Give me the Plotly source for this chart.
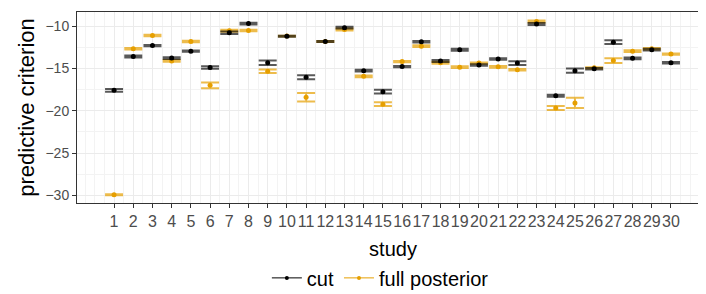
import plotly.graph_objects as go

study = list(range(1, 31))
cut_mean = [-17.59, -13.59, -12.30, -13.78, -12.96, -14.89, -10.78, -9.70, -14.33, -11.20,
            -16.04, -11.82, -10.18, -15.26, -17.74, -14.78, -11.85, -14.11, -12.78, -14.59,
            -13.89, -14.37, -9.74, -18.22, -15.26, -15.04, -11.89, -13.81, -12.78, -14.33]
cut_err = [0.15, 0.12, 0.08, 0.10, 0.08, 0.15, 0.15, 0.10, 0.26, 0.05,
           0.24, 0.05, 0.10, 0.10, 0.22, 0.08, 0.08, 0.12, 0.12, 0.08,
           0.08, 0.22, 0.12, 0.12, 0.24, 0.08, 0.22, 0.10, 0.10, 0.08]
full_mean = [-29.93, -12.67, -11.11, -14.11, -11.81, -17.00, -10.55, -10.52, -15.33, -11.18,
             -18.41, -11.82, -10.40, -15.93, -19.22, -14.19, -12.37, -14.33, -14.85, -14.37,
             -14.81, -15.15, -9.44, -19.67, -19.07, -14.93, -14.07, -12.96, -12.67, -13.30]
full_err = [0.05, 0.10, 0.08, 0.10, 0.08, 0.35, 0.12, 0.08, 0.20, 0.05,
            0.50, 0.05, 0.12, 0.10, 0.22, 0.08, 0.10, 0.12, 0.10, 0.08,
            0.10, 0.08, 0.12, 0.24, 0.60, 0.08, 0.28, 0.10, 0.10, 0.08]
tick_labels = [str(s) for s in study]

BLACK = "#000000"
ORANGE = "#E69F00"
FONT = "Liberation Sans, Arial, sans-serif"

fig = go.Figure()

fig.add_trace(go.Scatter(
    x=study, y=full_mean, mode="markers", showlegend=False,
    marker=dict(color=ORANGE, size=5),
    error_y=dict(type="data", array=full_err, visible=True,
                 color="rgba(230,159,0,0.7)", thickness=2, width=9),
))
fig.add_trace(go.Scatter(
    x=study, y=cut_mean, mode="markers", showlegend=False,
    marker=dict(color=BLACK, size=5),
    error_y=dict(type="data", array=cut_err, visible=True,
                 color="rgba(0,0,0,0.65)", thickness=2, width=9),
))
# legend entries
fig.add_trace(go.Scatter(x=[None], y=[None], mode="lines+markers", name="cut",
                         line=dict(color=BLACK, width=1), marker=dict(color=BLACK, size=4)))
fig.add_trace(go.Scatter(x=[None], y=[None], mode="lines+markers", name="full posterior",
                         line=dict(color=ORANGE, width=1), marker=dict(color=ORANGE, size=4)))

fig.update_layout(
    width=706, height=294,
    margin=dict(l=69, r=5, t=4, b=87),
    paper_bgcolor="white", plot_bgcolor="white",
    font=dict(family=FONT, color="#000000"),
    legend=dict(orientation="h", x=0.48, xanchor="center", y=-0.29, yanchor="top",
                font=dict(size=20, color="#000000"), itemwidth=30,
                tracegroupgap=0),
    xaxis=dict(
        range=[-0.93, 31.98], tickmode="array", tickvals=study, ticktext=tick_labels,
        tickangle=0,
        showgrid=True, gridcolor="#EBEBEB", gridwidth=1,
        minor=dict(dtick=0.5, tick0=0.5, showgrid=True, gridcolor="#F3F3F3", gridwidth=0.6),
        showline=True, linecolor="#333333", linewidth=1, mirror=True,
        ticks="outside", ticklen=4, tickcolor="#333333",
        tickfont=dict(size=16, color="#4D4D4D"),
        zeroline=False,
        title=dict(text="study", font=dict(size=20, color="#000000"), standoff=12),
    ),
    yaxis=dict(
        range=[-30.9, -8.33], tickmode="array", tickvals=[-30, -25, -20, -15, -10],
        showgrid=True, gridcolor="#EBEBEB", gridwidth=1,
        minor=dict(dtick=2.5, tick0=0, showgrid=True, gridcolor="#F3F3F3", gridwidth=0.6),
        showline=True, linecolor="#333333", linewidth=1, mirror=True,
        ticks="outside", ticklen=4, tickcolor="#333333",
        tickfont=dict(size=14, color="#4D4D4D"),
        zeroline=False,
        title=dict(text="predictive criterion", font=dict(size=22, color="#000000"), standoff=4),
    ),
)

fig.write_html("out.html")
